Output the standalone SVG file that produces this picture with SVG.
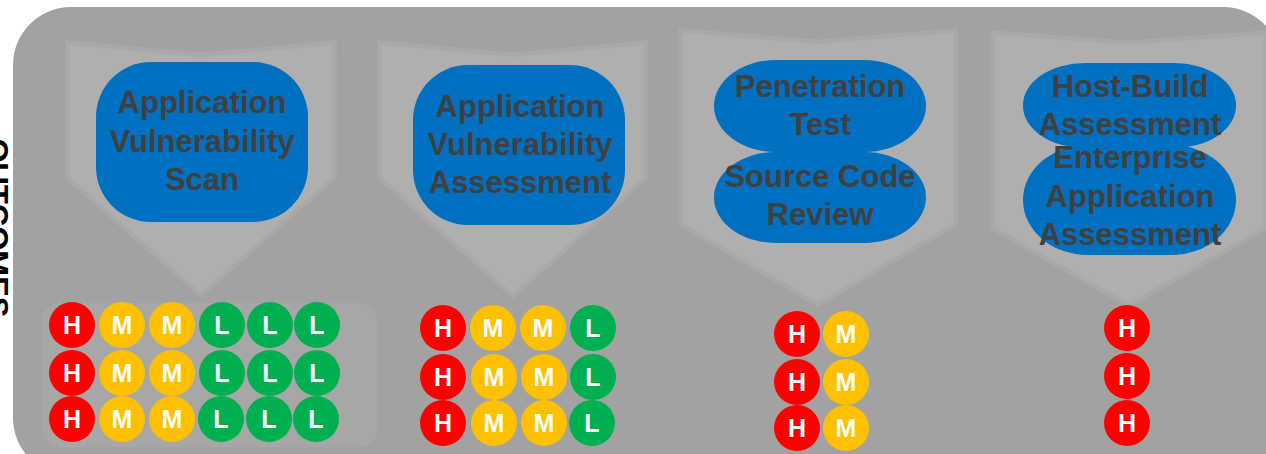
<svg xmlns="http://www.w3.org/2000/svg" width="1266" height="454" viewBox="0 0 1266 454">
<style>
.bg{fill:#a2a2a2}
.chev{fill:#afafaf;stroke:#a9a9a9;stroke-width:9;stroke-linejoin:miter;paint-order:stroke}
.panel{fill:#a7a7a7}
.blob{fill:#0070c0}
.lbl{font-family:"Liberation Sans",Arial,sans-serif;font-weight:bold;font-size:31px;fill:#404040;text-anchor:middle}
.side{font-family:"Liberation Sans",Arial,sans-serif;font-weight:bold;font-size:31px;fill:#000000;text-anchor:middle}
.h{fill:#ff0000}
.m{fill:#ffc000}
.l{fill:#00b050}
.ct{font-family:"Liberation Sans",Arial,sans-serif;font-weight:bold;font-size:25px;fill:#ffffff;text-anchor:middle}
</style>
<defs>
<g id="cH"><circle r="23" class="h"/><text class="ct" y="9">H</text></g>
<g id="cM"><circle r="23" class="m"/><text class="ct" y="9">M</text></g>
<g id="cL"><circle r="23" class="l"/><text class="ct" y="9">L</text></g>
</defs>

<text class="side" transform="translate(-14,228) rotate(90)">OUTCOMES</text>
<rect class="bg" x="13" y="7" width="1268" height="469" rx="58" ry="58"/>

<g id="connectors"></g>

<g id="node-avs">
<polygon class="chev" points="70,45 201,57 332,45 332,177 201,292 70,177"/>
<rect class="blob" x="96" y="62" width="212" height="160" rx="55" ry="55"/>
<text class="lbl" x="202" y="113">Application</text>
<text class="lbl" x="202" y="152">Vulnerability</text>
<text class="lbl" x="202" y="190">Scan</text>
</g>

<g id="node-ava">
<polygon class="chev" points="382,45 513,57 643,45 643,177 513,293 382,177"/>
<rect class="blob" x="413" y="65" width="212" height="160" rx="55" ry="55"/>
<text class="lbl" x="520" y="117">Application</text>
<text class="lbl" x="520" y="155">Vulnerability</text>
<text class="lbl" x="520" y="193">Assessment</text>
</g>

<g id="node-pt">
<polygon class="chev" points="683,33 818,44 953,33 953,223 818,302 683,223"/>
<rect class="blob" x="714" y="152" width="212" height="91" rx="62" ry="46"/>
<text class="lbl" x="820" y="187">Source Code</text>
<text class="lbl" x="820" y="225">Review</text>
<rect class="blob" x="714" y="60" width="212" height="92" rx="62" ry="46"/>
<text class="lbl" x="820" y="97">Penetration</text>
<text class="lbl" x="820" y="135">Test</text>
</g>

<g id="node-hba">
<polygon class="chev" points="995,35 1129,45 1263,35 1263,227 1129,303 995,227"/>
<rect class="blob" x="1023" y="145" width="213" height="110" rx="65" ry="55"/>
<text class="lbl" x="1130" y="168">Enterprise</text>
<text class="lbl" x="1130" y="207">Application</text>
<text class="lbl" x="1130" y="245">Assessment</text>
<rect class="blob" x="1023" y="63" width="213" height="85" rx="62" ry="42"/>
<text class="lbl" x="1130" y="97">Host-Build</text>
<text class="lbl" x="1130" y="135">Assessment</text>
</g>

<g id="ratings-avs">
<rect class="panel" x="42" y="303" width="335" height="144" rx="18" ry="18"/>
<use href="#cH" x="72" y="325"/><use href="#cM" x="122" y="325"/><use href="#cM" x="172" y="325"/><use href="#cL" x="222" y="325"/><use href="#cL" x="270" y="325"/><use href="#cL" x="317" y="325"/>
<use href="#cH" x="72" y="373"/><use href="#cM" x="122" y="373"/><use href="#cM" x="172" y="373"/><use href="#cL" x="222" y="373"/><use href="#cL" x="270" y="373"/><use href="#cL" x="317" y="373"/>
<use href="#cH" x="72" y="419"/><use href="#cM" x="122" y="419"/><use href="#cM" x="172" y="419"/><use href="#cL" x="221" y="419"/><use href="#cL" x="269" y="419"/><use href="#cL" x="316" y="419"/>
</g>

<g id="ratings-ava">
<use href="#cH" x="443" y="328"/><use href="#cM" x="493" y="328"/><use href="#cM" x="543" y="328"/><use href="#cL" x="593" y="328"/>
<use href="#cH" x="443" y="377"/><use href="#cM" x="494" y="377"/><use href="#cM" x="544" y="377"/><use href="#cL" x="593" y="377"/>
<use href="#cH" x="443" y="423"/><use href="#cM" x="494" y="423"/><use href="#cM" x="544" y="423"/><use href="#cL" x="592" y="423"/>
</g>

<g id="ratings-pt">
<use href="#cH" x="797" y="334"/><use href="#cM" x="846" y="334"/>
<use href="#cH" x="797" y="382"/><use href="#cM" x="846" y="382"/>
<use href="#cH" x="797" y="428"/><use href="#cM" x="846" y="428"/>
</g>

<g id="ratings-hba">
<use href="#cH" x="1127" y="328"/>
<use href="#cH" x="1127" y="376"/>
<use href="#cH" x="1127" y="423"/>
</g>
</svg>
